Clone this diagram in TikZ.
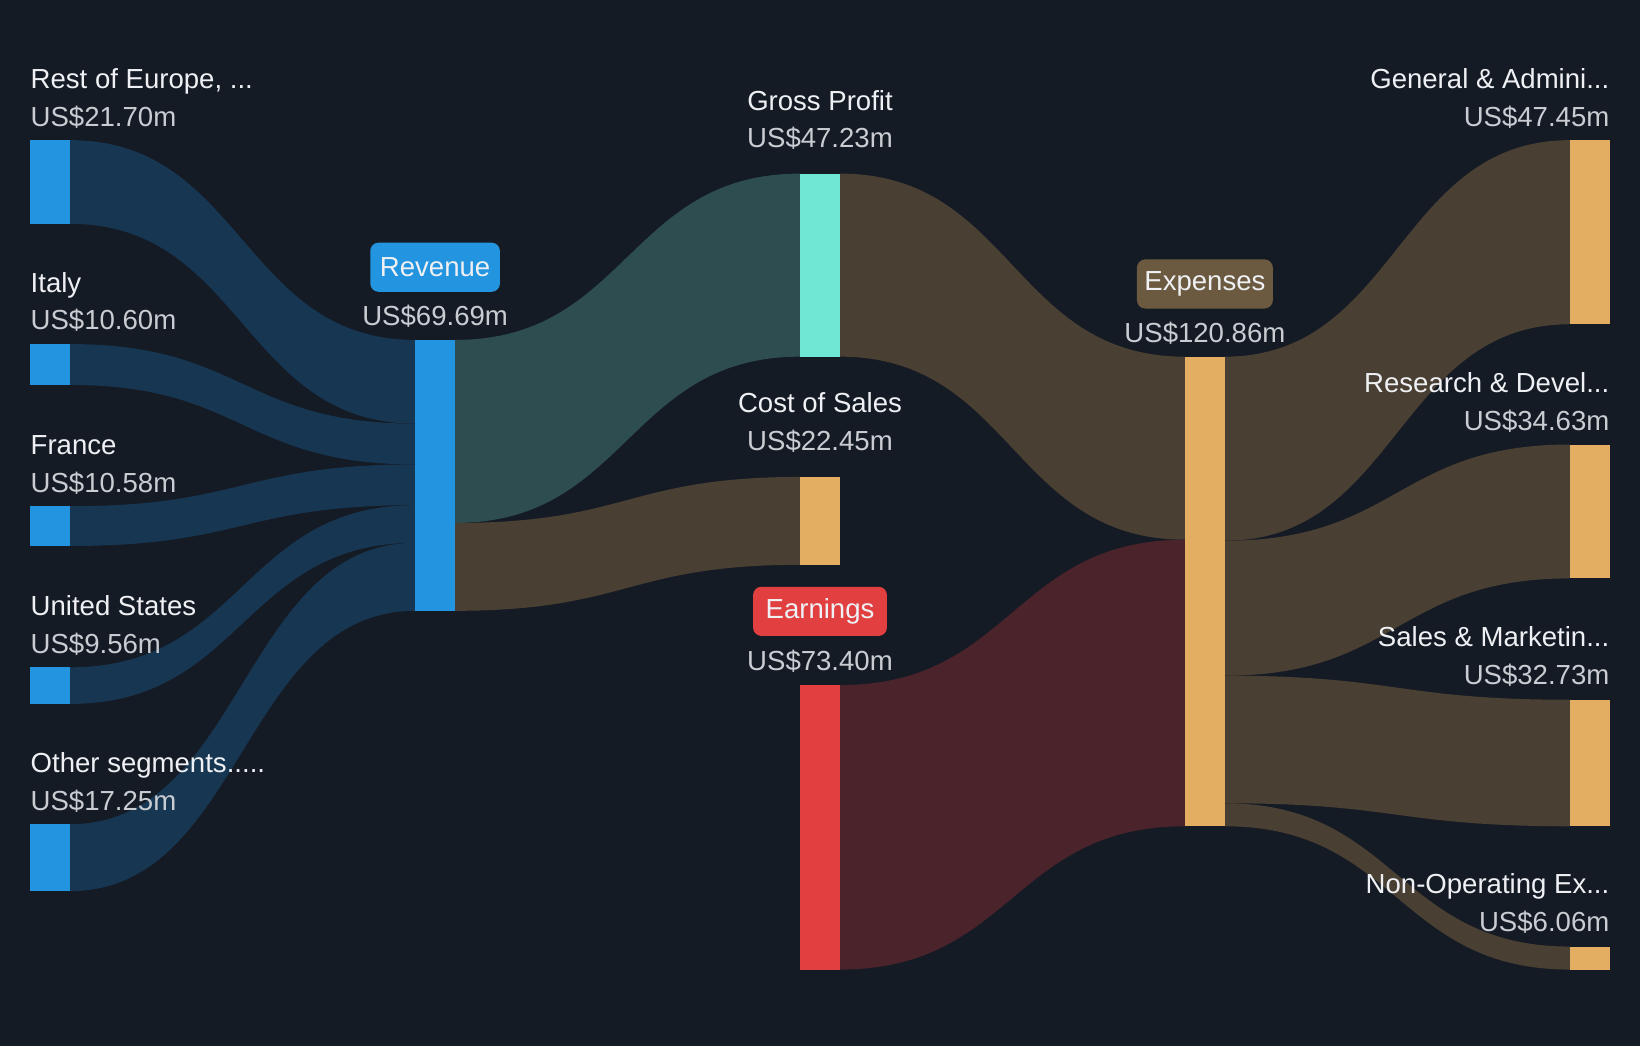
\documentclass[tikz,border=0pt]{standalone}
\usepackage{fontspec}
\setmainfont{Liberation Sans}
\definecolor{bg}{HTML}{151B25}
\definecolor{barblue}{HTML}{2394DF}
\definecolor{barteal}{HTML}{6EE7D5}
\definecolor{bartan}{HTML}{E3AE62}
\definecolor{barred}{HTML}{E24040}
\definecolor{flowblue}{HTML}{173652}
\definecolor{flowteal}{HTML}{2D4D50}
\definecolor{flowbrown}{HTML}{4A3F33}
\definecolor{flowred}{HTML}{4A232B}
\definecolor{boxbrown}{HTML}{6B5A3F}
\definecolor{txt}{HTML}{EEF0F3}
\definecolor{valtxt}{HTML}{C9CCD1}
% band between two bars: x1, top1, bottom1, x2, top2, bottom2, colour
\newcommand{\flow}[7]{%
\fill[#7] (#1,#2) .. controls ({(#1+#4)/2},#2) and ({(#1+#4)/2},#5) .. (#4,#5)
  -- (#4,#6) .. controls ({(#1+#4)/2},#6) and ({(#1+#4)/2},#3) .. (#1,#3) -- cycle;}
\tikzset{
  lab/.style={text=txt, font=\fontsize{15}{18}\selectfont, inner sep=0pt},
  val/.style={text=valtxt, font=\fontsize{15}{18}\selectfont, inner sep=0pt},
  tagbox/.style={rounded corners=0.16cm, text=txt, font=\fontsize{15}{18}\selectfont,
    minimum height=0.94cm, inner sep=0pt}
}
\begin{document}
\begin{tikzpicture}[x=0.02cm, y=-0.02cm]
% draw background
\fill[bg] (0,0) rectangle (1568,1000);

% draw flows into revenue
\foreach \ta/\ba/\tb/\bb in {134/214/325/405, 329/368/405/444, 484/522/444/483, 638/673/483/519, 788/852/519/584}
{
\flow{67}{\ta}{\ba}{397}{\tb}{\bb}{flowblue}
}

% draw flows out of revenue
\flow{435}{325}{500}{765}{166}{341}{flowteal}
\flow{435}{500}{584}{765}{456}{540}{flowbrown}

% draw flows into expenses
\flow{803}{166}{341}{1133}{341}{516}{flowbrown}
\flow{803}{655}{927}{1133}{516}{790}{flowred}

% draw flows out of expenses
\foreach \ta/\ba/\tb/\bb in {341/517/134/310, 517/646/425/553, 646/768/669/790, 768/790/905/927}
{
\flow{1171}{\ta}{\ba}{1501}{\tb}{\bb}{flowbrown}
}

% draw bars
\foreach \t/\b in {134/214, 329/368, 484/522, 638/673, 788/852}
{
\fill[barblue] (29,\t) rectangle (67,\b);
}
\fill[barblue] (397,325) rectangle (435,584);
\fill[barteal] (765,166) rectangle (803,341);
\fill[bartan] (765,456) rectangle (803,540);
\fill[barred] (765,655) rectangle (803,927);
\fill[bartan] (1133,341) rectangle (1171,790);
\foreach \t/\b in {134/310, 425/553, 669/790, 905/927}
{
\fill[bartan] (1501,\t) rectangle (1539,\b);
}

% draw left labels
\foreach \name/\amount/\y [count=\i] in {{Rest of Europe, ...}/21.70/75, Italy/10.60/270, France/10.58/425, United States/9.56/579, {Other segments.....}/17.25/729}
{
\node[lab, anchor=base west] (seg\i) at (29,\y+9.5) {\name};
\node[val, anchor=base west] (segval\i) at (29,\y+45.5) {US\$\amount m};
}

% draw middle labels
\node[tagbox, fill=barblue, minimum width=2.48cm] (revenue) at (416,255.5) {Revenue};
\node[val, anchor=base] (revenueval) at (416,311.5) {US\$69.69m};
\node[lab, anchor=base] (gross) at (784,105.5) {Gross Profit};
\node[val, anchor=base] (grossval) at (784,141.5) {US\$47.23m};
\node[lab, anchor=base] (cost) at (784,394.5) {Cost of Sales};
\node[val, anchor=base] (costval) at (784,430.5) {US\$22.45m};
\node[tagbox, fill=barred, minimum width=2.56cm] (earnings) at (784,584.5) {Earnings};
\node[val, anchor=base] (earningsval) at (784,641.5) {US\$73.40m};
\node[tagbox, fill=boxbrown, minimum width=2.6cm] (expenses) at (1152,271.5) {Expenses};
\node[val, anchor=base] (expensesval) at (1152,327.5) {US\$120.86m};

% draw right labels
\foreach \name/\amount/\y [count=\i] in {{General \& Admini...}/47.45/75, {Research \& Devel...}/34.63/366, {Sales \& Marketin...}/32.73/609, {Non-Operating Ex...}/6.06/845}
{
\node[lab, anchor=base east] (cat\i) at (1539,\y+9.5) {\name};
\node[val, anchor=base east] (catval\i) at (1539,\y+45.5) {US\$\amount m};
}
\end{tikzpicture}
\end{document}
